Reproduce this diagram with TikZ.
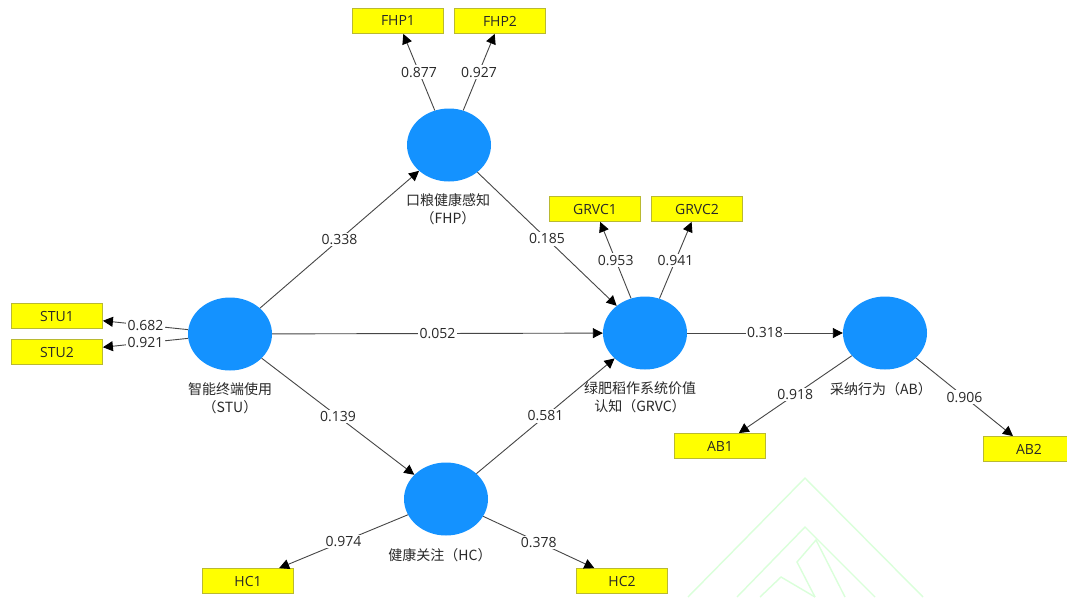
\documentclass[tikz,border=0pt]{standalone}
\usepackage{fontspec}
\setmainfont{Open Sans}
\newfontfamily\cjk{Noto Sans CJK SC}
\usetikzlibrary{arrows.meta,shapes.geometric}
\definecolor{lvblue}{RGB}{20,146,255}
\definecolor{mvyellow}{RGB}{255,255,0}
\definecolor{mvborder}{RGB}{185,185,50}
\definecolor{edgegray}{RGB}{70,70,70}
\definecolor{txt}{RGB}{40,40,40}
\definecolor{wm}{RGB}{218,255,218}
\tikzset{
  lv/.style={ellipse, fill=lvblue, minimum width=84pt, minimum height=73pt, inner sep=0pt},
  mv/.style={rectangle, fill=mvyellow, draw=mvborder, line width=0.8pt, minimum width=91pt, minimum height=25pt, inner sep=0pt, text=txt, font=\fontsize{14}{14}\selectfont},
  conn/.style={draw=edgegray, line width=0.9pt, -{Triangle[length=10pt,width=10pt,color=black]}},
  lbl/.style={fill=white, inner sep=1.5pt, text=txt, font=\fontsize{14}{14}\selectfont},
  lvcap/.style={align=center, text=txt, font=\cjk\fontsize{14}{18}\selectfont},
  wmline/.style={draw=wm, line width=1.4pt}
}
\begin{document}
\begin{tikzpicture}[x=1pt,y=-1pt]
\clip (0,0) rectangle (1067,597);
\useasboundingbox (0,0) rectangle (1067,597);
\fill[white] (0,0) rectangle (1067,597);
% watermark
\draw[wmline] (688,597) -- (805,478) -- (923,597);
\draw[wmline] (737,597) -- (805,527) -- (875,597);
\draw[wmline] (815,597) -- (797,562) -- (816,540) -- (845,597);
\draw[wmline] (760,597) -- (781,577) -- (815,597);
% latent variables
\node[lv] (FHP) at (449,145) {};
\node[lv] (STU) at (230,334) {};
\node[lv] (GRVC) at (645,333) {};
\node[lv] (AB) at (885,333) {};
\node[lv] (HC) at (446,499) {};
% captions
\node[lvcap] (capFHP) at (448,209) {口粮健康感知\\（FHP）};
\node[lvcap] (capSTU) at (230,398) {智能终端使用\\（STU）};
\node[lvcap] (capGRVC) at (640,397) {绿肥稻作系统价值\\认知（GRVC）};
\node[lvcap] (capAB) at (881,389) {采纳行为（AB）};
\node[lvcap] (capHC) at (440,555) {健康关注（HC）};
% indicators
\node[mv] (FHP1) at (398,21) {FHP1};
\node[mv] (FHP2) at (500,21) {FHP2};
\node[mv] (GRVC1) at (595,209) {GRVC1};
\node[mv] (GRVC2) at (697,209) {GRVC2};
\node[mv] (STU1) at (57,316) {STU1};
\node[mv] (STU2) at (57,352) {STU2};
\node[mv] (AB1) at (720,446) {AB1};
\node[mv] (AB2) at (1029,449) {AB2};
\node[mv] (HC1) at (248,581) {HC1};
\node[mv] (HC2) at (622,581) {HC2};
% structural paths
\draw[conn] (STU) -- node[lbl] {0.338} (FHP);
\draw[conn] (FHP) -- node[lbl] {0.185} (GRVC);
\draw[conn] (STU) -- node[lbl] {0.052} (GRVC);
\draw[conn] (STU) -- node[lbl] {0.139} (HC);
\draw[conn] (HC) -- node[lbl] {0.581} (GRVC);
\draw[conn] (GRVC) -- node[lbl] {0.318} (AB);
% loadings
\draw[conn] (FHP) -- node[lbl] {0.877} (FHP1);
\draw[conn] (FHP) -- node[lbl] {0.927} (FHP2);
\draw[conn] (GRVC) -- node[lbl] {0.953} (GRVC1);
\draw[conn] (GRVC) -- node[lbl] {0.941} (GRVC2);
\draw[conn] (STU) -- node[lbl, inner ysep=0.5pt] {0.682} (STU1);
\draw[conn] (STU) -- node[lbl, inner ysep=0.5pt] {0.921} (STU2);
\draw[conn] (AB) -- node[lbl] {0.918} (AB1);
\draw[conn] (AB) -- node[lbl] {0.906} (AB2);
\draw[conn] (HC) -- node[lbl] {0.974} (HC1);
\draw[conn] (HC) -- node[lbl] {0.378} (HC2);
\end{tikzpicture}
\end{document}
